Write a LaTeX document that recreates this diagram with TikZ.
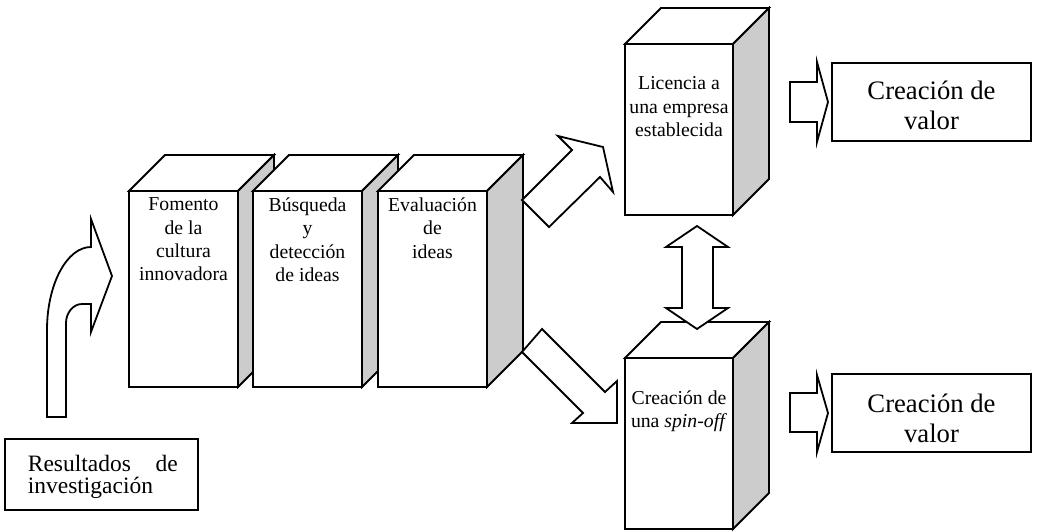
\documentclass[tikz,border=0pt]{standalone}
\usepackage{fontspec}
\setmainfont{Liberation Serif}
\definecolor{sidegray}{RGB}{204,204,204}
\newcommand{\cubo}[5]{%
  \filldraw[fill=white,draw=black] (#2,#3) -- (#2+36,#3-36) -- (#4+36,#3-36) -- (#4,#3) -- cycle;
  \filldraw[fill=sidegray,draw=black] (#4,#3) -- (#4+36,#3-36) -- (#4+36,#5-36) -- (#4,#5) -- cycle;
  \node[frontface, minimum width={(#4-#2)*0.75pt}, minimum height={(#5-#3)*0.75pt}, anchor=north west] (#1) at (#2,#3) {};
}
\begin{document}
\begin{tikzpicture}[x=0.75pt,y=-0.75pt, line width=1.35pt,
  frontface/.style={draw=black, fill=white, inner sep=0pt, outer sep=0pt},
  blockarrow/.style={draw=black, fill=white, line join=miter},
  boxtext/.style={font=\fontsize{14.8}{17.5}\selectfont, align=center, anchor=north, inner sep=0pt},
  valtext/.style={font=\fontsize{20}{22.5}\selectfont, align=center, anchor=north, inner sep=0pt},
  plainbox/.style={draw=black, fill=white, inner sep=0pt, outer sep=0pt, anchor=north west}]
\useasboundingbox (0,0) rectangle (1037,531);

% process cuboids
\cubo{b1}{129}{191}{238}{387}
\cubo{b2}{253}{191}{362}{387}
\cubo{b3}{378}{191}{487}{387}
\cubo{lic}{625}{44}{733}{215}
\cubo{spin}{625}{358}{733}{529}

\node[boxtext] (t1) at (183.5,197) {Fomento\\de la\\cultura\\innovadora};
\node[boxtext] (t2) at (307.5,197) {Búsqueda\\y\\detección\\de ideas};
\node[boxtext] (t3) at (432.5,197) {Evaluación\\de\\ideas};
\node[boxtext] (t4) at (679,76) {Licencia a\\una empresa\\establecida};
\node[boxtext] (t5) at (679,390) {Creación de\\una \textit{spin-off}};

% value boxes
\node[plainbox, minimum width={199*0.75pt}, minimum height={78*0.75pt}] (v1) at (832,63) {};
\node[plainbox, minimum width={199*0.75pt}, minimum height={78*0.75pt}] (v2) at (832,374) {};
\node[valtext] (vt1) at (931.5,80) {Creación de\\valor};
\node[valtext] (vt2) at (931.5,393) {Creación de\\valor};

% results box
\node[plainbox, minimum width={193*0.75pt}, minimum height={71*0.75pt}] (res) at (5,439) {};
\node[anchor=north west, inner sep=0pt, align=left, font=\fontsize{17.6}{16.5}\selectfont] (rt) at (27,454) {\hbox to 112.5pt{Resultados\hfill de}\\investigación};

% curved arrow
\draw[blockarrow] (47,417) -- (47,330) .. controls (47,284) and (67,247) .. (91,247)
  -- (91,219) -- (112,276) -- (91,332) -- (91,304) -- (82,304)
  .. controls (73,304) and (66,313) .. (66,323) -- (66,417) -- cycle;

% diagonal arrows
\draw[blockarrow] (522,200) -- (572,150) -- (558,136) -- (603,147) -- (613,192) -- (600,177) -- (549,227) -- cycle;
\draw[blockarrow] (522,352) -- (542,329) -- (605,392) -- (617,381) -- (617,423) -- (572,423) -- (583,413) -- cycle;

% double arrow
\draw[blockarrow] (697,226) -- (728,247) -- (713,247) -- (713,308) -- (728,308) -- (697,329)
  -- (666,308) -- (682,308) -- (682,247) -- (666,247) -- cycle;

% right arrows
\draw[blockarrow] (790,82) -- (817,82) -- (817,62) -- (828,102) -- (817,142) -- (817,122) -- (790,122) -- cycle;
\draw[blockarrow] (790,393) -- (817,393) -- (817,375) -- (828,413) -- (817,452) -- (817,432) -- (790,432) -- cycle;
\end{tikzpicture}
\end{document}
